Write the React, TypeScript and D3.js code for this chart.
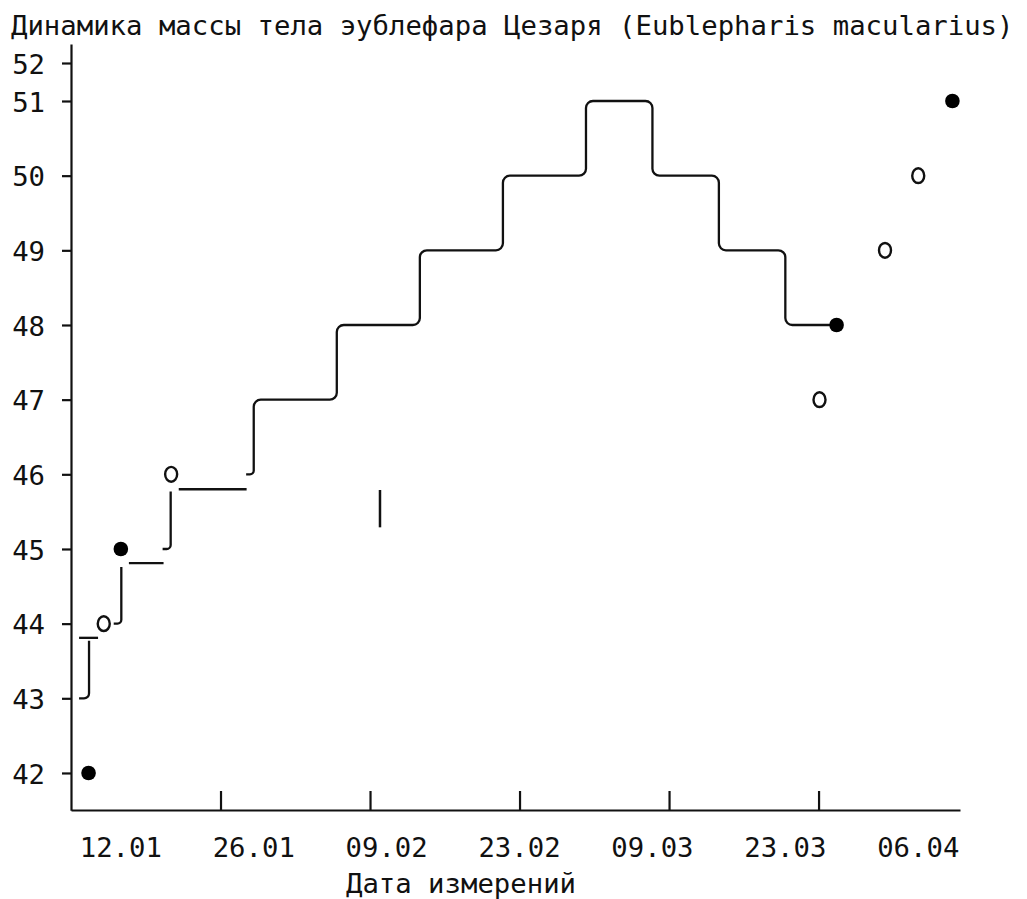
import React, { useEffect, useRef } from "react";
import * as d3 from "d3";

// days are counted from 12.01 (day 0), masses in grams
const xLabels = ["12.01", "26.01", "09.02", "23.02", "09.03", "23.03", "06.04"];
const xLabelDays = [0, 14, 28, 42, 56, 70, 84];
const xTickDays = [10.5, 26.25, 42, 57.75, 73.5];
const yTicks = [42, 43, 44, 45, 46, 47, 48, 49, 50, 51, 52];

// weighings drawn as filled / open markers
const filledDays = [-3.4, 0, 75.4, 87.6];
const filledMass = [42, 45, 48, 51];
const openDays = [-1.8, 5.3, 73.6, 80.5, 84];
const openMass = [44, 46, 47, 49, 50];

// main stepped trend
const stepDays = [13.2, 14, 22.75, 31.5, 40.25, 49, 56, 63, 70, 75.4];
const stepMass = [46, 47, 48, 49, 50, 51, 50, 49, 48, 48];

// short rising hooks at the start
const hookStart = [-4.4, -0.75, 4.4];
const hookDays = [-3.35, 0.05, 5.25];
const hookFrom = [43, 44, 45];
const hookTo = [43.77, 44.76, 45.77];

// flat dashes after the hooks
const dashFrom = [-4.4, 0.85, 6.1];
const dashTo = [-2.4, 4.5, 13.25];
const dashMass = [43.81, 44.81, 45.8];

// lone vertical mark
const markDays = [27.3];
const markLow = [45.29];
const markHigh = [45.79];

const FONT = "'DejaVu Sans Mono', 'Liberation Mono', monospace";
const INK = "#111";

function App() {
  const ref = useRef<SVGSVGElement>(null);

  useEffect(() => {
    const svg = d3.select(ref.current);
    svg.selectAll("*").remove();

    const x = d3.scaleLinear().domain([-5.25, 88.4]).range([71, 960]);
    // the top row (52) sits half a step above 51
    const y = d3.scaleLinear().domain([41.5, 51, 52.5]).range([810.3, 101, 44]);

    const rounded = (verts: number[][], r: number) => {
      const v: number[][] = [];
      verts.forEach(p => {
        const last = v[v.length - 1];
        if (!last || Math.abs(last[0] - p[0]) > 0.01 || Math.abs(last[1] - p[1]) > 0.01) v.push(p);
      });
      const p = d3.path();
      p.moveTo(v[0][0], v[0][1]);
      for (let i = 1; i < v.length - 1; i++) {
        const a = Math.hypot(v[i][0] - v[i - 1][0], v[i][1] - v[i - 1][1]);
        const b = Math.hypot(v[i + 1][0] - v[i][0], v[i + 1][1] - v[i][1]);
        p.arcTo(v[i][0], v[i][1], v[i + 1][0], v[i + 1][1], Math.min(r, a / 2, b / 2));
      }
      p.lineTo(v[v.length - 1][0], v[v.length - 1][1]);
      return p.toString();
    };

    const stepVerts = (days: number[], mass: number[]) => {
      const v = [[x(days[0]), y(mass[0])]];
      for (let i = 1; i < days.length; i++) {
        v.push([x(days[i]), y(mass[i - 1])]);
        v.push([x(days[i]), y(mass[i])]);
      }
      return v;
    };

    // title
    svg.append("text")
      .attr("x", 11).attr("y", 35)
      .attr("font-family", FONT).attr("font-size", 27.3)
      .attr("fill", INK)
      .text("Динамика массы тела эублефара Цезаря (Eublepharis macularius)");

    // y axis
    const yAxis = svg.append("g")
      .attr("transform", "translate(71,0)")
      .call(d3.axisLeft(y).tickValues(yTicks).tickSizeInner(9).tickSizeOuter(0).tickPadding(17).tickFormat(d => String(d)));
    yAxis.select(".domain").attr("stroke", INK).attr("stroke-width", 2.2);
    yAxis.selectAll(".tick line").attr("stroke", INK).attr("stroke-width", 2.2);
    yAxis.selectAll(".tick text")
      .attr("font-family", FONT).attr("font-size", 27.3)
      .attr("fill", INK).attr("dy", "0.37em");

    // x axis: unlabeled ticks pointing up, labels placed separately
    const xAxis = svg.append("g")
      .attr("transform", "translate(0,810)")
      .call(d3.axisBottom(x).tickValues(xTickDays).tickSizeInner(-19).tickSizeOuter(0).tickFormat(() => ""));
    xAxis.select(".domain").attr("stroke", INK).attr("stroke-width", 2.2);
    xAxis.selectAll(".tick line").attr("stroke", INK).attr("stroke-width", 2.2);

    svg.append("g").selectAll("text")
      .data(xLabels)
      .enter()
      .append("text")
      .attr("x", (d, i) => x(xLabelDays[i]))
      .attr("y", 857)
      .attr("text-anchor", "middle")
      .attr("font-family", FONT).attr("font-size", 27.3)
      .attr("fill", INK)
      .text(d => d);

    svg.append("text")
      .attr("x", 461).attr("y", 893)
      .attr("text-anchor", "middle")
      .attr("font-family", FONT).attr("font-size", 27.3)
      .attr("fill", INK)
      .text("Дата измерений");

    const lines = svg.append("g")
      .attr("fill", "none").attr("stroke", INK).attr("stroke-width", 2.3);

    // hooks
    lines.selectAll(".hook")
      .data(hookDays)
      .enter()
      .append("path")
      .attr("class", "hook")
      .attr("d", (d, i) => rounded(stepVerts([hookStart[i], d], [hookFrom[i], hookTo[i]]), 7));

    // dashes
    lines.selectAll(".dash")
      .data(dashMass)
      .enter()
      .append("line")
      .attr("class", "dash")
      .attr("x1", (d, i) => x(dashFrom[i]))
      .attr("x2", (d, i) => x(dashTo[i]))
      .attr("y1", d => y(d))
      .attr("y2", d => y(d));

    // main steps
    lines.append("path")
      .attr("d", rounded(stepVerts(stepDays, stepMass), 7));

    // lone mark
    lines.selectAll(".mark")
      .data(markDays)
      .enter()
      .append("line")
      .attr("class", "mark")
      .attr("stroke-width", 2.5)
      .attr("x1", d => x(d)).attr("x2", d => x(d))
      .attr("y1", (d, i) => y(markLow[i]))
      .attr("y2", (d, i) => y(markHigh[i]));

    // open markers
    svg.append("g").selectAll("ellipse")
      .data(openDays)
      .enter()
      .append("ellipse")
      .attr("cx", d => x(d))
      .attr("cy", (d, i) => y(openMass[i]))
      .attr("rx", 6).attr("ry", 7.4)
      .attr("fill", "#fff")
      .attr("stroke", INK).attr("stroke-width", 2.4);

    // filled markers
    svg.append("g").selectAll("circle")
      .data(filledDays)
      .enter()
      .append("circle")
      .attr("cx", d => x(d))
      .attr("cy", (d, i) => y(filledMass[i]))
      .attr("r", 7.3)
      .attr("fill", "#000");
  }, []);

  return (
    <svg ref={ref} width={1027} height={899}
      style={{ position: "absolute", left: 0, top: 0, background: "#fff" }} />
  );
}

export default App;
